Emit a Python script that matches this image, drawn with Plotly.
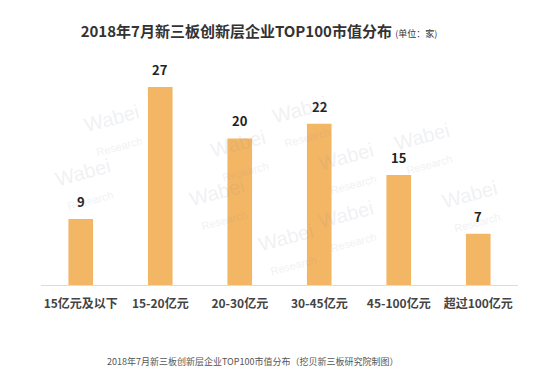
import plotly.graph_objects as go

categories = ["15亿元及以下", "15-20亿元", "20-30亿元", "30-45亿元", "45-100亿元", "超过100亿元"]
counts = [9, 27, 20, 22, 15, 7]
title_main = "2018年7月新三板创新层企业TOP100市值分布"
title_unit = "(单位：家)"
caption = "2018年7月新三板创新层企业TOP100市值分布（挖贝新三板研究院制图）"

FONT = "Noto Sans CJK SC"
BAR = "#F3B664"

# page body has an 8px default margin, so the figure is sized to fit the window
W, H = 542, 365
L, R, T, B = 33, 32, 52, 88
plot_h = H - T - B

fig = go.Figure()
fig.add_trace(go.Bar(
    x=categories, y=counts,
    marker=dict(color=BAR, line=dict(width=0)),
    width=0.31,
    hoverinfo="x+y",
))

annotations = []
for c, v in zip(categories, counts):
    annotations.append(dict(
        x=c, y=v, xref="x", yref="y", text=f"<b>{v}</b>",
        showarrow=False, yanchor="bottom", yshift=6,
        font=dict(family=FONT, size=13, color="#222222"),
    ))

# faint watermarks
wm = [(0.08, 0.83), (0.55, 0.87), (0.88, 0.75), (0.02, 0.45), (0.42, 0.58),
      (0.72, 0.52), (0.30, 0.22), (0.72, 0.12), (0.52, 0.02), (0.98, 0.35)]
for wx, wy in wm:
    annotations.append(dict(
        x=wx, y=wy, xref="paper", yref="paper", showarrow=False,
        text="Wabei<br><span style='font-size:11px'>Research</span>",
        textangle=-15, opacity=0.12,
        font=dict(family="Liberation Sans", size=20, color="#8890a8"),
    ))

annotations.append(dict(
    x=(245 - L) / (W - L - R), y=-(353 - (H - B)) / plot_h,
    xref="paper", yref="paper", showarrow=False,
    xanchor="center", yanchor="middle", text=caption,
    font=dict(family=FONT, size=9, color="#555555"),
))

fig.update_layout(
    width=W, height=H,
    margin=dict(l=L, r=R, t=T, b=B),
    paper_bgcolor="white", plot_bgcolor="white",
    showlegend=False,
    bargap=0.69,
    title=dict(
        text=f"<b>{title_main}</b> <span style='font-size:9px'>{title_unit}</span>",
        x=251 / W, xanchor="center", xref="container",
        y=1 - 24 / H, yanchor="middle", yref="container",
        font=dict(family=FONT, size=15, color="#333333"),
    ),
    xaxis=dict(
        showgrid=False, showline=True, linecolor="#D9DCE3", linewidth=1,
        ticks="", ticklabelstandoff=8,
        tickfont=dict(family=FONT, size=12, color="#444444", weight="bold"),
    ),
    yaxis=dict(
        range=[0, 30.7], visible=False, showgrid=False, zeroline=False,
    ),
    annotations=annotations,
)

fig.write_html("out.html")
